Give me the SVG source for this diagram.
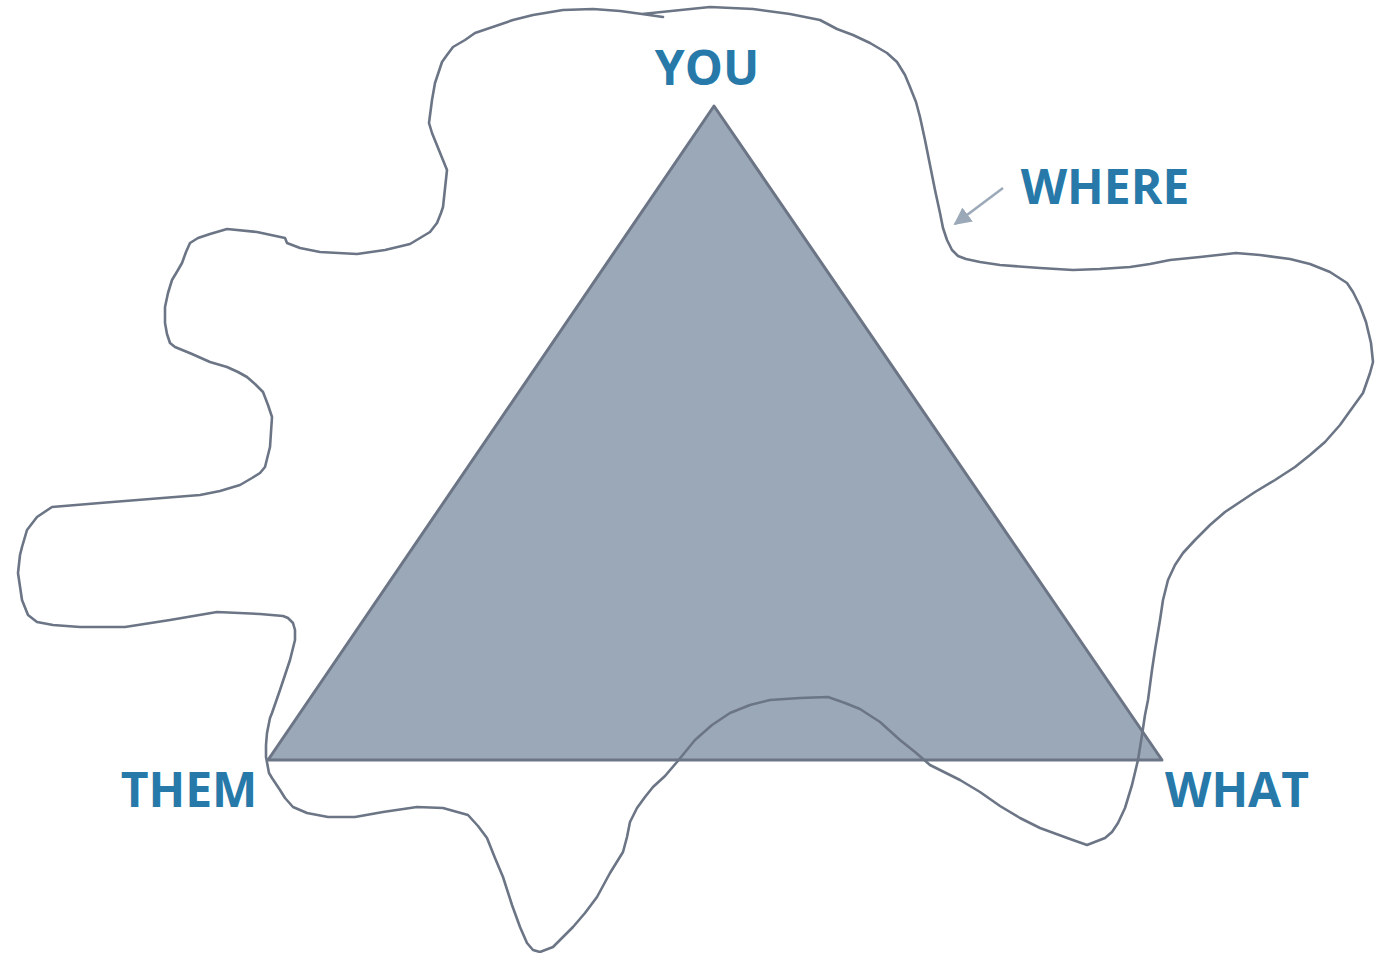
<svg xmlns="http://www.w3.org/2000/svg" width="1380" height="953" viewBox="0 0 1380 953">
<style>
.lbl{font-family:"Open Sans","Liberation Sans",sans-serif;font-weight:700;font-size:48px;fill:#2679a8;text-anchor:middle}
.tri{fill:#9ba8b7;stroke:#6b7585;stroke-width:3;stroke-linejoin:round}
.blob{fill:none;stroke:#6b7585;stroke-width:2.6;stroke-linejoin:round;stroke-linecap:round}
.arr{stroke:#9ba8b7;stroke-width:2.5;fill:none}
</style>
<defs>
<marker id="ah" viewBox="0 0 10 10" refX="9" refY="5" markerWidth="7" markerHeight="7" markerUnits="strokeWidth" orient="auto">
<path d="M0,0 L10,5 L0,10 z" fill="#9ba8b7"/>
</marker>
</defs>
<rect width="1380" height="953" fill="#ffffff"/>
<g id="triangle">
<polygon class="tri" points="714,106 268,760 1162,760"/>
</g>
<g id="where-region">
<path class="blob" d="M642,14 L710,7 L753,9 L790,14 L820,20 L837,29 L853,35 L870,43 L887,53 L897,62 L905,75 L910,87 L916,102 L920,117 L925,140 L930,165 L935,190 L940,213 L943,228 L947,240 L952,250 L958,256 L966,259 L980,262 L1000,265 L1040,268 L1073,270 L1100,269 L1130,267 L1150,264 L1170,260 L1200,257 L1236,253 L1260,255 L1290,259 L1310,264 L1330,272 L1347,283 L1353,292 L1360,306 L1366,322 L1371,343 L1373,362 L1370,373 L1363,393 L1350,411 L1340,425 L1325,442 L1310,455 L1295,467 L1275,480 L1255,492 L1240,502 L1225,512 L1210,525 L1195,540 L1183,553 L1175,565 L1168,580 L1163,600 L1160,620 L1155,650 L1152,670 L1148,700 L1145,715 L1142,735 L1138,760 L1132,785 L1125,808 L1118,823 L1112,832 L1105,838 L1087,845 L1070,839 L1040,828 L1020,818 L1000,806 L980,792 L960,780 L930,765 L915,752 L900,740 L880,722 L860,709 L845,703 L828,697 L800,698 L770,700 L750,705 L730,713 L712,725 L695,740 L677,762 L665,776 L653,787 L645,797 L637,808 L630,822 L627,837 L623,852 L610,873 L597,897 L585,913 L573,927 L553,947 L540,952 L533,950 L527,943 L520,927 L512,905 L503,877 L495,858 L487,838 L478,826 L468,815 L443,808 L417,807 L383,812 L355,817 L328,817 L307,813 L293,807 L285,798 L280,790 L272,778 L269,773 L266,757 L266,745 L267,733 L270,718 L272,713 L280,690 L290,660 L295,640 L295,630 L293,623 L288,618 L283,616 L260,614 L217,612 L170,620 L125,627 L80,627 L53,625 L37,622 L28,615 L22,600 L18,573 L20,555 L22,547 L27,530 L37,517 L52,507 L100,503 L150,499 L200,495 L220,491 L240,485 L252,478 L260,473 L265,467 L268,455 L270,447 L272,417 L268,405 L263,392 L255,384 L247,377 L238,372 L227,367 L210,362 L192,354 L175,347 L170,343 L167,334 L165,323 L165,307 L168,293 L172,280 L178,270 L182,263 L186,252 L190,243 L198,238 L210,234 L227,229 L257,232 L285,238 L287,243 L300,248 L320,252 L357,254 L385,250 L410,244 L420,238 L430,232 L437,223 L441,213 L443,207 L447,170 L432,133 L429,123 L432,100 L435,83 L440,68 L442,62 L447,55 L453,47 L465,40 L475,33 L513,20 L533,15 L563,10 L593,9 L620,11 L642,14 L663,17"/>
</g>
<g id="node-you"><text class="lbl" x="707" y="85">YOU</text></g>
<g id="node-them"><text class="lbl" x="189" y="807">THEM</text></g>
<g id="node-what"><text class="lbl" x="1237" y="807">WHAT</text></g>
<g id="node-where"><text class="lbl" x="1105" y="204">WHERE</text></g>
<g id="connectors">
<line class="arr" x1="1003" y1="188" x2="955" y2="224" marker-end="url(#ah)"/>
</g>
</svg>
